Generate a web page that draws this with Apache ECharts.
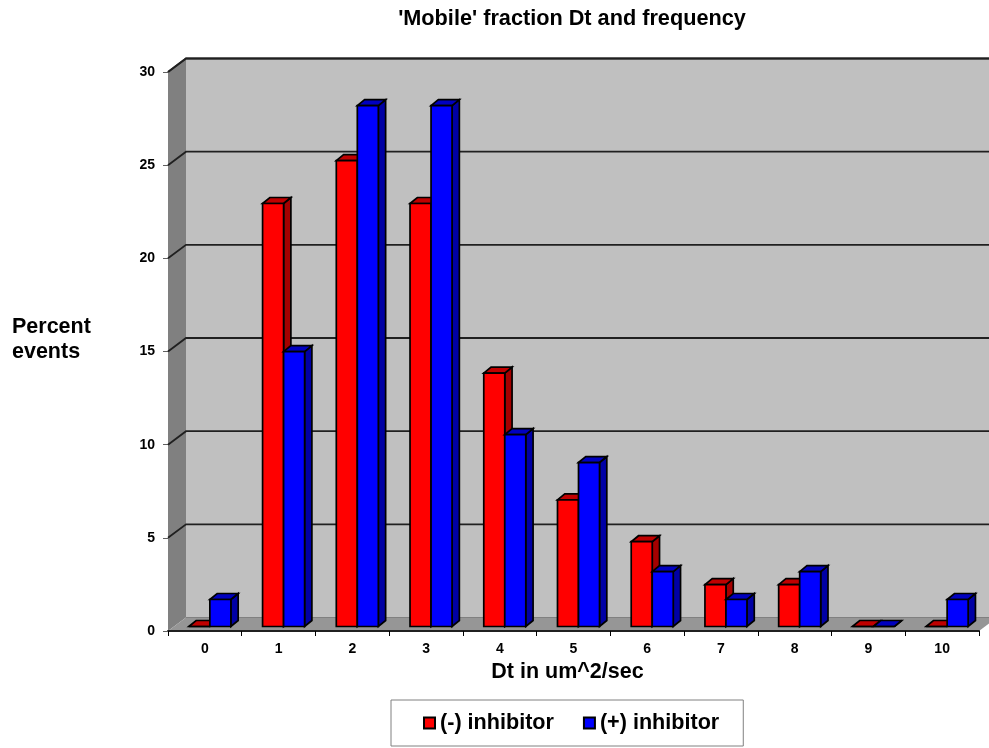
<!DOCTYPE html>
<html>
<head>
<meta charset="utf-8">
<style>
  html, body { margin: 0; padding: 0; background: #fff; }
  #chart { width: 989px; height: 748px; }
</style>
<script src="https://cdn.jsdelivr.net/npm/echarts@6/dist/echarts.min.js"></script>
</head>
<body>
<div id="chart"></div>
<script>
// Histogram of diffusion coefficients, with and without inhibitor
const categories = ['0', '1', '2', '3', '4', '5', '6', '7', '8', '9', '10'];
const withoutInhibitor = [0, 22.7, 25, 22.7, 13.6, 6.8, 4.55, 2.25, 2.25, 0, 0];
const withInhibitor = [1.45, 14.75, 27.95, 27.95, 10.3, 8.8, 2.95, 1.45, 2.95, 0, 1.45];
const gridValues = [5, 10, 15, 20, 25, 30];

const FONT = '"Liberation Sans", Arial, sans-serif';
// Oblique projection used for the box look: wall depth, then bar placement and depth
const WALL_DX = 18, WALL_DY = -13.5;
const BAR_DX = 5, BAR_DY = -4.5;
const BOX_DX = 7.3, BOX_DY = -6;
const BAR_BAND = 0.285;
const OUTLINE = 1.7;

function poly(points, fill, stroke, width) {
  return {
    type: 'polygon',
    shape: { points },
    style: { fill, stroke: stroke || null, lineWidth: width || 0, lineJoin: 'miter' }
  };
}

// Side wall, back wall and floor of the plot box
function renderWalls(params) {
  const r = params.coordSys;
  const l = r.x, t = r.y, w = r.width, b = r.y + r.height;
  return {
    type: 'group',
    children: [
      poly([[l + WALL_DX, t + WALL_DY], [l + w + WALL_DX, t + WALL_DY],
            [l + w + WALL_DX, b + WALL_DY], [l + WALL_DX, b + WALL_DY]], '#c0c0c0'),
      poly([[l, t], [l + WALL_DX, t + WALL_DY], [l + WALL_DX, b + WALL_DY], [l, b]], '#808080'),
      poly([[l, b], [l + WALL_DX, b + WALL_DY], [l + w + WALL_DX, b + WALL_DY], [l + w, b]], '#969696'),
      {
        type: 'polyline',
        shape: { points: [[l, t], [l + WALL_DX, t + WALL_DY], [l + w + WALL_DX, t + WALL_DY]] },
        style: { fill: null, stroke: '#404040', lineWidth: 2 }
      },
      {
        type: 'line',
        shape: { x1: l + WALL_DX, y1: b + WALL_DY, x2: l + w + WALL_DX, y2: b + WALL_DY },
        style: { stroke: '#808080', lineWidth: 1 }
      }
    ]
  };
}

// Horizontal rules folded across the side wall and back wall
function renderGridLine(params, api) {
  const r = params.coordSys;
  const y = api.coord([0, api.value(1)])[1];
  return {
    type: 'polyline',
    shape: { points: [[r.x, y], [r.x + WALL_DX, y + WALL_DY], [r.x + r.width + WALL_DX, y + WALL_DY]] },
    style: { fill: null, stroke: '#202020', lineWidth: 1.8 }
  };
}

function boxRenderer(side, front, topColor, sideColor) {
  return function (params, api) {
    const base = api.coord([api.value(0), 0]);
    const top = api.coord([api.value(0), api.value(1)]);
    const barW = api.size([1, 0])[0] * BAR_BAND;
    const x0 = base[0] + BAR_DX + (side < 0 ? -barW : 0);
    const x1 = x0 + barW;
    const yb = base[1] + BAR_DY;
    const yt = top[1] + BAR_DY;
    const stroke = '#000';
    return {
      type: 'group',
      children: [
        poly([[x1, yt], [x1 + BOX_DX, yt + BOX_DY], [x1 + BOX_DX, yb + BOX_DY], [x1, yb]], sideColor, stroke, OUTLINE),
        poly([[x0, yt], [x0 + BOX_DX, yt + BOX_DY], [x1 + BOX_DX, yt + BOX_DY], [x1, yt]], topColor, stroke, OUTLINE),
        poly([[x0, yt], [x1, yt], [x1, yb], [x0, yb]], front, stroke, OUTLINE)
      ]
    };
  };
}

const chart = echarts.init(document.getElementById('chart'), null, { renderer: 'canvas' });

chart.setOption({
  backgroundColor: '#ffffff',
  animation: false,
  textStyle: { fontFamily: FONT },
  title: {
    text: "'Mobile' fraction Dt and frequency",
    left: 567,
    top: 3,
    textAlign: 'center',
    textStyle: { fontFamily: FONT, fontWeight: 'bold', fontSize: 21.7, color: '#000' }
  },
  // Horizontal y axis caption, set to the left of the tick labels
  graphic: [{
    type: 'text',
    left: 12,
    top: 315,
    style: {
      text: 'Percent\nevents',
      fontFamily: FONT,
      fontWeight: 'bold',
      fontSize: 21.5,
      lineHeight: 25,
      fill: '#000'
    }
  }],
  legend: {
    left: 391,
    top: 700,
    padding: [12, 24, 12, 32],
    itemGap: 29,
    itemWidth: 11,
    itemHeight: 11,
    icon: 'rect',
    backgroundColor: '#fff',
    borderColor: '#808080',
    borderWidth: 1,
    borderRadius: 0,
    selectedMode: false,
    data: ['(-) inhibitor', '(+) inhibitor'],
    textStyle: { fontFamily: FONT, fontWeight: 'bold', fontSize: 21.6, color: '#000' }
  },
  grid: { left: 168, top: 72, width: 811, height: 559, containLabel: false },
  xAxis: {
    type: 'category',
    data: categories,
    name: 'Dt in um^2/sec',
    nameLocation: 'middle',
    nameGap: 30,
    nameTextStyle: { fontFamily: FONT, fontWeight: 'bold', fontSize: 21.5, color: '#000', padding: [0, 12, 0, 0] },
    axisLine: { lineStyle: { color: '#202020', width: 2 } },
    axisTick: { show: true, alignWithLabel: false, length: 5, lineStyle: { color: '#000', width: 1 } },
    axisLabel: { margin: 11, fontFamily: FONT, fontWeight: 'bold', fontSize: 14, color: '#000', interval: 0 },
    splitLine: { show: false }
  },
  yAxis: {
    type: 'value',
    min: 0,
    max: 30,
    interval: 5,
    axisLine: { show: true, lineStyle: { color: '#808080', width: 1 } },
    axisTick: { show: true, length: 5, lineStyle: { color: '#606060', width: 1 } },
    axisLabel: { margin: 13, fontFamily: FONT, fontWeight: 'bold', fontSize: 14, color: '#000' },
    splitLine: { show: false }
  },
  series: [
    {
      type: 'custom',
      name: 'walls',
      z: 0,
      silent: true,
      renderItem: renderWalls,
      data: [[0, 0]]
    },
    {
      type: 'custom',
      name: 'rules',
      z: 1,
      silent: true,
      renderItem: renderGridLine,
      encode: { x: 0, y: 1 },
      data: gridValues.map(v => [0, v])
    },
    {
      type: 'custom',
      name: '(-) inhibitor',
      z: 3,
      itemStyle: { color: '#ff0000', borderColor: '#000', borderWidth: 2 },
      renderItem: boxRenderer(-1, '#ff0000', '#c00000', '#a50000'),
      encode: { x: 0, y: 1 },
      data: withoutInhibitor.map((v, i) => [i, v])
    },
    {
      type: 'custom',
      name: '(+) inhibitor',
      z: 4,
      itemStyle: { color: '#0000ff', borderColor: '#000', borderWidth: 2 },
      renderItem: boxRenderer(1, '#0000ff', '#0000c0', '#0000a5'),
      encode: { x: 0, y: 1 },
      data: withInhibitor.map((v, i) => [i, v])
    }
  ]
});
</script>
</body>
</html>
